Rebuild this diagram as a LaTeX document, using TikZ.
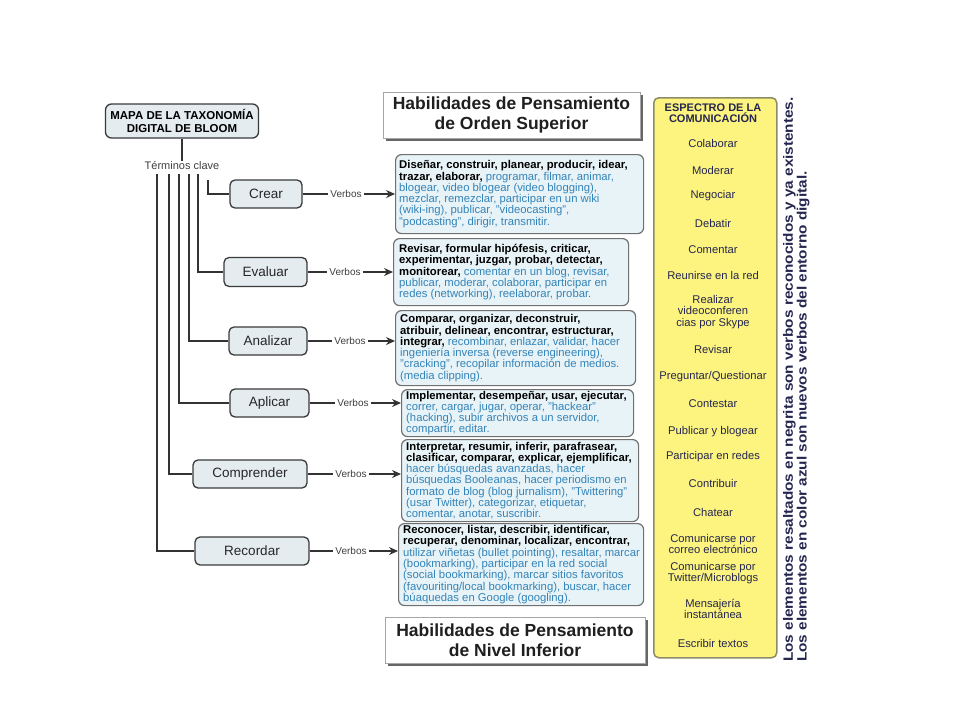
\documentclass[tikz,border=0pt]{standalone}
\usepackage{fontspec}
\setmainfont{Liberation Sans}
\newfontfamily\notefont[FakeStretch=1.135]{Liberation Sans}
\usetikzlibrary{arrows.meta,shadows,calc}
\definecolor{lvlfill}{HTML}{E4ECF0}
\definecolor{lvldraw}{HTML}{3A3A3A}
\definecolor{vbfill}{HTML}{E8F3F8}
\definecolor{vbdraw}{HTML}{707070}
\definecolor{bluetxt}{HTML}{3384B8}
\definecolor{yel}{HTML}{FCF47E}
\definecolor{yeldraw}{HTML}{8E8C66}
\definecolor{navy}{HTML}{25264F}
\definecolor{linec}{HTML}{333333}
\newcommand{\bt}[1]{\textcolor{bluetxt}{#1}}
\begin{document}
\begin{tikzpicture}[x=1pt,y=-1pt,
  lvl/.style={draw=lvldraw, fill=lvlfill, rounded corners=5pt, line width=1.3pt,
    font=\fontsize{13.5}{15}\selectfont, text=black!85, inner sep=0pt},
  vbox/.style={draw=vbdraw, fill=vbfill, rounded corners=6pt, line width=1.2pt,
    anchor=north west, inner sep=0pt},
  vtext/.style={anchor=west, align=left, inner sep=0pt, font=\fontsize{11.3}{11.3}\selectfont},
  verbos/.style={font=\fontsize{10}{12}\selectfont, text=black!75, inner sep=2pt},
  conn/.style={draw=linec, line width=1.3pt},
  arr/.style={conn, -{Stealth[length=9pt,width=8pt]}},
  hdr/.style={draw=gray!70, fill=white, line width=1pt,
    drop shadow={shadow xshift=3pt, shadow yshift=-3pt, fill=black!60, opacity=1},
    font=\fontsize{17.5}{20}\selectfont\bfseries, text=black!88, align=center, inner sep=0pt},
  yitem/.style={text=navy, font=\fontsize{11.2}{11.8}\selectfont, align=center, inner sep=0pt}
]
\useasboundingbox[fill=white] (0,0) rectangle (960,720);

% title
\node[draw=lvldraw, fill=lvlfill, rounded corners=6pt, line width=1.3pt,
  minimum width=153, minimum height=34, inner sep=0pt, align=center,
  font=\fontsize{11.5}{12.5}\selectfont\bfseries] (title) at (182,121)
  {MAPA DE LA TAXONOMÍA\\DIGITAL DE BLOOM};
\node[font=\fontsize{11}{13}\selectfont, text=black!75, inner sep=1pt] (terms) at (182,166) {Términos clave};
\draw[conn] (title.south) -- (terms.north);

% level boxes
\node[lvl, minimum width=72, minimum height=28] (crear) at (266,194) {Crear};
\node[lvl, minimum width=83, minimum height=29] (evaluar) at (265.5,272) {Evaluar};
\node[lvl, minimum width=78, minimum height=28] (analizar) at (268,341) {Analizar};
\node[lvl, minimum width=79, minimum height=28] (aplicar) at (269.5,403) {Aplicar};
\node[lvl, minimum width=114, minimum height=28] (comprender) at (250,474) {Comprender};
\node[lvl, minimum width=114, minimum height=28] (recordar) at (252,551) {Recordar};

% branch starts
\coordinate (bcrear) at (208,180);
\coordinate (bevaluar) at (198,174);
\coordinate (banalizar) at (189,174);
\coordinate (baplicar) at (179,174);
\coordinate (bcomprender) at (169,174);
\coordinate (brecordar) at (157,174);
\draw[conn] (bcrear) |- (crear.west);
\draw[conn] (bevaluar) |- (evaluar.west);
\draw[conn] (banalizar) |- (analizar.west);
\draw[conn] (baplicar) |- (aplicar.west);
\draw[conn] (bcomprender) |- (comprender.west);
\draw[conn] (brecordar) |- (recordar.west);

% verb boxes
\node[vbox, minimum width=248, minimum height=79] (vcrear) at (395,154) {};
\node[vtext] (tcrear) at ([xshift=4pt]vcrear.west) {%
\textbf{Diseñar, construir, planear, producir, idear,}\\
\textbf{trazar, elaborar,} \bt{programar, filmar, animar,}\\
\bt{blogear, video blogear (video blogging),}\\
\bt{mezclar, remezclar, participar en un wiki}\\
\bt{(wiki-ing), publicar, "videocasting",}\\
\bt{"podcasting", dirigir, transmitir.}};

\node[vbox, minimum width=235, minimum height=67] (vevaluar) at (393,238) {};
\node[vtext] (tevaluar) at ([xshift=6pt]vevaluar.west) {%
\textbf{Revisar, formular hipófesis, criticar,}\\
\textbf{experimentar, juzgar, probar, detectar,}\\
\textbf{monitorear,} \bt{comentar en un blog, revisar,}\\
\bt{publicar, moderar, colaborar, participar en}\\
\bt{redes (networking), reelaborar, probar.}};

\node[vbox, minimum width=240, minimum height=75] (vanalizar) at (395,310) {};
\node[vtext] (tanalizar) at ([xshift=5pt]vanalizar.west) {%
\textbf{Comparar, organizar, deconstruir,}\\
\textbf{atribuir, delinear, encontrar, estructurar,}\\
\textbf{integrar,} \bt{recombinar, enlazar, validar, hacer}\\
\bt{ingeniería inversa (reverse engineering),}\\
\bt{"cracking", recopilar información de medios.}\\
\bt{(media clipping).}};

\node[vbox, minimum width=232, minimum height=47] (vaplicar) at (401,389) {};
\node[vtext] (taplicar) at ([xshift=5pt]vaplicar.west) {%
\textbf{Implementar, desempeñar, usar, ejecutar,}\\
\bt{correr, cargar, jugar, operar, "hackear"}\\
\bt{(hacking), subir archivos a un servidor,}\\
\bt{compartir, editar.}};

\node[vbox, minimum width=237, minimum height=82] (vcomprender) at (401,439) {};
\node[vtext] (tcomprender) at ([xshift=5pt]vcomprender.west) {%
\textbf{Interpretar, resumir, inferir, parafrasear,}\\
\textbf{clasificar, comparar, explicar, ejemplificar,}\\
\bt{hacer búsquedas avanzadas, hacer}\\
\bt{búsquedas Booleanas, hacer periodismo en}\\
\bt{formato de blog (blog jurnalism), "Twittering"}\\
\bt{(usar Twitter), categorizar, etiquetar,}\\
\bt{comentar, anotar, suscribir.}};

\node[vbox, minimum width=245, minimum height=82] (vrecordar) at (398,523) {};
\node[vtext] (trecordar) at ([xshift=5pt]vrecordar.west) {%
\textbf{Reconocer, listar, describir, identificar,}\\
\textbf{recuperar, denominar, localizar, encontrar,}\\
\bt{utilizar viñetas (bullet pointing), resaltar, marcar}\\
\bt{(bookmarking), participar en la red social}\\
\bt{(social bookmarking), marcar sitios favoritos}\\
\bt{(favouriting/local bookmarking), buscar, hacer}\\
\bt{búaquedas en Google (googling).}};

% verbos connectors
\node[verbos] (v1) at (346,194) {Verbos};
\node[verbos] (v2) at (345,272) {Verbos};
\node[verbos] (v3) at (350,341) {Verbos};
\node[verbos] (v4) at (353,403) {Verbos};
\node[verbos] (v5) at (351,474) {Verbos};
\node[verbos] (v6) at (351,551) {Verbos};
\draw[conn] (crear.east) -- (v1.west);
\draw[conn] (evaluar.east) -- (v2.west);
\draw[conn] (analizar.east) -- (v3.west);
\draw[conn] (aplicar.east) -- (v4.west);
\draw[conn] (comprender.east) -- (v5.west);
\draw[conn] (recordar.east) -- (v6.west);
\draw[arr] (v1.east) -- (v1.east -| vcrear.west);
\draw[arr] (v2.east) -- (v2.east -| vevaluar.west);
\draw[arr] (v3.east) -- (v3.east -| vanalizar.west);
\draw[arr] (v4.east) -- (v4.east -| vaplicar.west);
\draw[arr] (v5.east) -- (v5.east -| vcomprender.west);
\draw[arr] (v6.east) -- (v6.east -| vrecordar.west);

% headers
\node[hdr, minimum width=257, minimum height=46] (hsup) at (511.5,115)
  {Habilidades de Pensamiento\\de Orden Superior};
\node[hdr, minimum width=260, minimum height=46] (hinf) at (515,640)
  {Habilidades de Pensamiento\\de Nivel Inferior};

% yellow column
\node[draw=yeldraw, fill=yel, rounded corners=5pt, line width=1.5pt,
  minimum width=123, minimum height=560, inner sep=0pt, anchor=north west] (espectro) at (653,97) {};
\node[yitem, font=\fontsize{11}{11.5}\selectfont\bfseries] (yt) at (713,113) {ESPECTRO DE LA\\COMUNICACIÓN};
\node[yitem] (y1) at (713,143) {Colaborar};
\node[yitem] (y2) at (713,170) {Moderar};
\node[yitem] (y3) at (713,196) {Negociar};
\node[yitem] (y4) at (713,223) {Debatir};
\node[yitem] (y5) at (713,250) {Comentar};
\node[yitem] (y6) at (713,275) {Reunirse en la red};
\node[yitem] (y7) at (713,312) {Realizar\\videoconferen\\cias por Skype};
\node[yitem] (y8) at (713,349) {Revisar};
\node[yitem] (y9) at (713,377) {Preguntar/Questionar};
\node[yitem] (y10) at (713,404) {Contestar};
\node[yitem] (y11) at (713,432) {Publicar y blogear};
\node[yitem] (y12) at (713,457) {Participar en redes};
\node[yitem] (y13) at (713,483) {Contribuir};
\node[yitem] (y14) at (713,512) {Chatear};
\node[yitem] (y15) at (713,544) {Comunicarse por\\correo electrónico};
\node[yitem] (y16) at (713,573) {Comunicarse por\\Twitter/Microblogs};
\node[yitem] (y17) at (713,609) {Mensajería\\instantánea};
\node[yitem] (y18) at (713,643) {Escribir textos};

% rotated note
\node[rotate=90, anchor=north west, align=left, text=navy, inner sep=0pt,
  font=\fontsize{13.5}{12.5}\notefont\bfseries] (nota) at (783,662)
  {Los elementos resaltados en negrita son verbos reconocidos y ya existentes.\\
   Los elementos en color azul son nuevos verbos del entorno digital.};
\end{tikzpicture}
\end{document}
